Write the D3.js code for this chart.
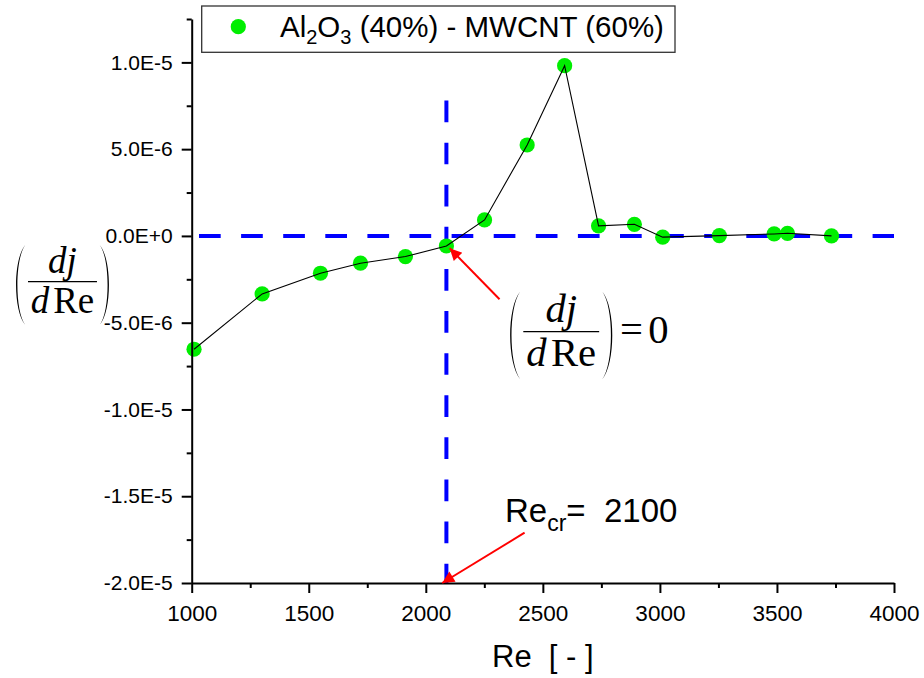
<!DOCTYPE html>
<html>
<head>
<meta charset="utf-8">
<script src="https://cdn.jsdelivr.net/npm/d3@7"></script>
<style>
  body { margin: 0; background: #fff; }
  svg { display: block; }
  text { font-family: "Liberation Sans", Arial, sans-serif; fill: #000; }
  .math { font-family: "Liberation Serif", "Times New Roman", serif; }
</style>
</head>
<body>
<div id="chart"></div>
<script>
// data
const reValues = [1010, 1301, 1550, 1721, 1913, 2088, 2251, 2433, 2593, 2738, 2891, 3012, 3254, 3488, 3545, 3733];
const djValues = [-6.53e-6, -3.34e-6, -2.15e-6, -1.57e-6, -1.19e-6, -0.58e-6, 0.92e-6, 5.24e-6, 9.81e-6,
                  0.58e-6, 0.67e-6, -0.07e-6, 0.02e-6, 0.115e-6, 0.15e-6, 0.0];

const xTicks = [1000, 1500, 2000, 2500, 3000, 3500, 4000];
const xTickLabels = ["1000", "1500", "2000", "2500", "3000", "3500", "4000"];
const xMinor = [1250, 1750, 2250, 2750, 3250, 3750];
const yTicks = [-2e-5, -1.5e-5, -1e-5, -5e-6, 0, 5e-6, 1e-5];
const yTickLabels = ["-2.0E-5", "-1.5E-5", "-1.0E-5", "-5.0E-6", "0.0E+0", "5.0E-6", "1.0E-5"];
const yMinor = [-1.75e-5, -1.25e-5, -7.5e-6, -2.5e-6, 2.5e-6, 7.5e-6, 1.25e-5];

const reCritLine = 2088;     // vertical dashed line
const reCritTop = 7.8e-6;    // where the vertical dashes start
const legendLabel = ["Al", "2", "O", "3", " (40%) - MWCNT (60%)"];

const W = 924, H = 678;
const svg = d3.select("#chart").append("svg")
    .attr("width", W)
    .attr("height", H);

const x = d3.scaleLinear().domain([1000, 4000]).range([191.7, 894]);
const y = d3.scaleLinear().domain([-2e-5, 1.25e-5]).range([583, 19]);

// reference lines (blue dashes)
svg.append("line")
    .attr("x1", 199).attr("x2", 894)
    .attr("y1", y(0)).attr("y2", y(0))
    .attr("stroke", "#0000ff").attr("stroke-width", 4)
    .attr("stroke-dasharray", "21.7,20.4");
svg.append("line")
    .attr("x1", x(reCritLine)).attr("x2", x(reCritLine))
    .attr("y1", y(reCritTop)).attr("y2", y(-2e-5))
    .attr("stroke", "#0000ff").attr("stroke-width", 4)
    .attr("stroke-dasharray", "21.7,20.4");

// points
const pts = reValues.map((r, i) => ({ re: r, v: djValues[i] }));
svg.append("g").selectAll("circle")
    .data(pts)
    .enter().append("circle")
    .attr("cx", d => x(d.re))
    .attr("cy", d => y(d.v))
    .attr("r", 7.6)
    .attr("fill", "#00ee00");

// connecting line on top
const line = d3.line().x(d => x(d.re)).y(d => y(d.v));
svg.append("path")
    .datum(pts)
    .attr("d", line)
    .attr("fill", "none")
    .attr("stroke", "#000")
    .attr("stroke-width", 1.1);

// axes
svg.append("g")
    .attr("class", "xaxis")
    .attr("transform", `translate(0,${y(-2e-5)})`)
    .call(d3.axisBottom(x).tickValues(xTicks).tickSize(10).tickSizeOuter(0).tickPadding(12)
        .tickFormat((d, i) => xTickLabels[i]));
svg.append("g")
    .attr("transform", `translate(0,${y(-2e-5)})`)
    .call(d3.axisBottom(x).tickValues(xMinor).tickSize(5).tickFormat(""))
    .call(g => g.select(".domain").remove());

svg.append("g")
    .attr("class", "yaxis")
    .attr("transform", `translate(${x(1000)},0)`)
    .call(d3.axisLeft(y).tickValues(yTicks).tickSize(10).tickSizeOuter(0).tickPadding(9)
        .tickFormat((d, i) => yTickLabels[i]));
svg.append("g")
    .attr("transform", `translate(${x(1000)},0)`)
    .call(d3.axisLeft(y).tickValues(yMinor).tickSize(5).tickFormat(""))
    .call(g => g.select(".domain").remove());

svg.selectAll(".domain, .tick line").attr("stroke", "#000").attr("stroke-width", 2);
svg.selectAll(".tick text")
    .style("font-family", "'Liberation Sans', Arial, sans-serif")
    .attr("fill", "#000");
svg.selectAll(".yaxis .tick text").style("font-size", "21px");
svg.selectAll(".xaxis .tick text").style("font-size", "22.5px");

// x title
svg.append("text")
    .attr("x", (x(1000) + x(4000)) / 2)
    .attr("y", 667)
    .attr("text-anchor", "middle")
    .style("font-size", "31px")
    .style("white-space", "pre")
    .text("Re  [ - ]");

// legend
svg.append("rect")
    .attr("x", 201.7).attr("y", 6)
    .attr("width", 473.3).attr("height", 46.3)
    .attr("fill", "#fff")
    .attr("stroke", "#333").attr("stroke-width", 1.3);
svg.append("circle")
    .attr("cx", 238.3).attr("cy", 26.7).attr("r", 7.6)
    .attr("fill", "#00ee00");
const lt = svg.append("text")
    .attr("x", 280).attr("y", 37)
    .style("font-size", "29.5px")
    .style("white-space", "pre");
legendLabel.forEach((s, i) => {
    const sub = i === 1 || i === 3;
    lt.append("tspan")
        .attr("dy", sub ? 7 : (i > 0 ? -7 : 0))
        .style("font-size", sub ? "20px" : "29.5px")
        .text(s);
});

// red arrows
svg.append("defs").append("marker")
    .attr("id", "head")
    .attr("viewBox", "0 0 10 10")
    .attr("refX", 10).attr("refY", 5)
    .attr("markerWidth", 7).attr("markerHeight", 6)
    .attr("markerUnits", "strokeWidth")
    .attr("orient", "auto")
    .append("path")
    .attr("d", "M0,0 L10,5 L0,10 Z")
    .attr("fill", "#ff0000");

const arrows = [
    { from: [2422, -1.71e-5], to: [2070, -2e-5] },
    { from: [2315, -3.65e-6], to: [2102, -0.71e-6] }
];
svg.append("g").selectAll("line")
    .data(arrows)
    .enter().append("line")
    .attr("x1", d => x(d.from[0])).attr("y1", d => y(d.from[1]))
    .attr("x2", d => x(d.to[0])).attr("y2", d => y(d.to[1]))
    .attr("stroke", "#ff0000").attr("stroke-width", 2)
    .attr("marker-end", "url(#head)");

// Re_cr label
const rc = svg.append("text")
    .attr("x", 505).attr("y", 521.7)
    .style("font-size", "33px")
    .style("white-space", "pre");
rc.append("tspan").text("Re");
rc.append("tspan").attr("dy", 9).style("font-size", "23px").text("cr");
rc.append("tspan").attr("dy", -9).text("=  2100");

// (dj / dRe) fraction drawn with serif text and paths
const paren = (cx, top, bot, bulge, dir) => {
    // filled crescent: outer and inner curve share the ends
    const h = bot - top;
    const inner = bulge - dir * 1.8;
    return `M${cx},${top} C${bulge},${top + h * 0.18} ${bulge},${bot - h * 0.18} ${cx},${bot}` +
        ` C${inner},${bot - h * 0.18} ${inner},${top + h * 0.18} ${cx},${top} Z`;
};

const drawFrac = (x0, yl, f, withZero) => {
    const g = svg.append("g").attr("class", "math");
    const w = 2.09 * f, cx = x0 + w / 2;
    const fs = 1.12 * f;
    g.append("line")
        .attr("x1", x0).attr("x2", x0 + w)
        .attr("y1", yl).attr("y2", yl)
        .attr("stroke", "#000").attr("stroke-width", 1.3);
    g.append("text")
        .attr("class", "math")
        .attr("x", cx).attr("y", yl - 0.26 * f)
        .attr("text-anchor", "middle")
        .style("font-size", fs + "px")
        .style("font-style", "italic")
        .text("dj");
    const den = g.append("text")
        .attr("class", "math")
        .attr("x", cx).attr("y", yl + 0.95 * f)
        .attr("text-anchor", "middle")
        .style("font-size", fs + "px");
    den.append("tspan").style("font-style", "italic").text("d");
    den.append("tspan").attr("dx", 0.12 * f).text("Re");
    const top = yl - 1.11 * f, bot = yl + 1.31 * f;
    g.append("path")
        .attr("d", paren(cx - 1.13 * f, top, bot, cx - 1.5 * f, -1))
        .attr("fill", "#000");
    g.append("path")
        .attr("d", paren(cx + 1.13 * f, top, bot, cx + 1.5 * f, 1))
        .attr("fill", "#000");
    if (withZero) {
        g.append("text").attr("class", "math")
            .attr("x", cx + 1.62 * f).attr("y", yl + 0.31 * f)
            .style("font-size", fs + "px").text("=");
        g.append("text").attr("class", "math")
            .attr("x", cx + 2.4 * f).attr("y", yl + 0.31 * f)
            .style("font-size", fs + "px").text("0");
    }
};

drawFrac(28, 281.7, 33, false);
drawFrac(523.3, 331.7, 36.3, true);
</script>
</body>
</html>
